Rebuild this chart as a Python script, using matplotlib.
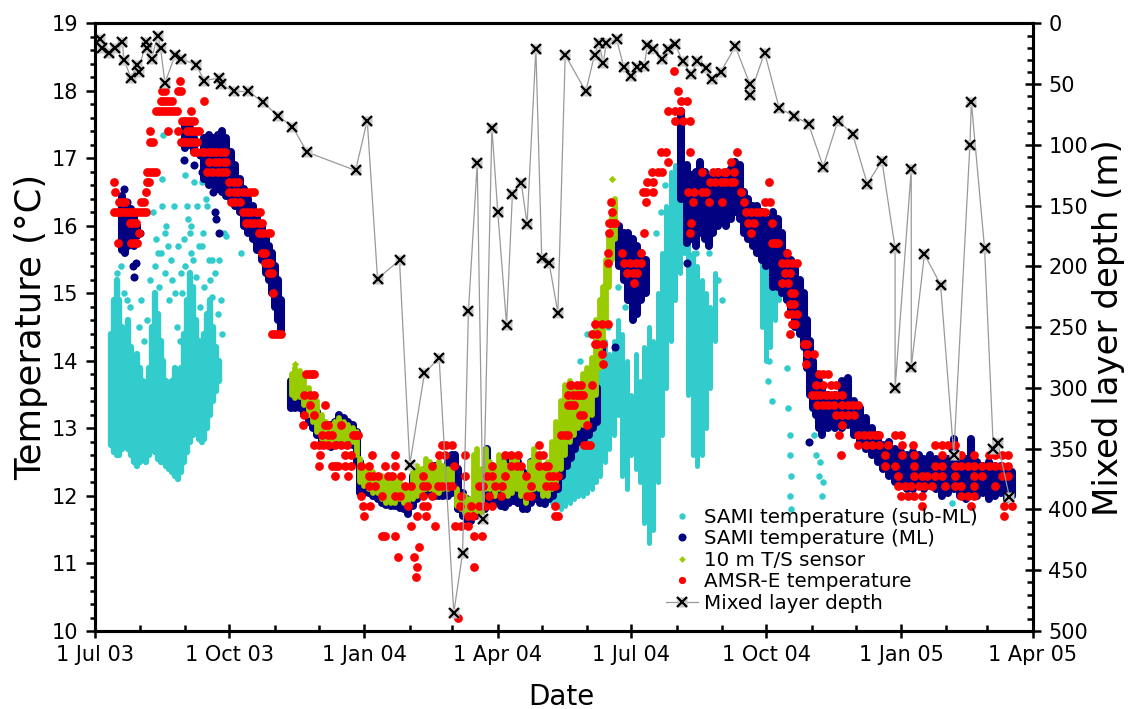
import numpy as np
import matplotlib
matplotlib.use("Agg")
import matplotlib.pyplot as plt
import matplotlib.dates as mdates
from matplotlib.lines import Line2D
from matplotlib.ticker import MultipleLocator

# all days are counted from 1 Jul 2003
t0 = np.datetime64("2003-07-01")

# SAMI temperature below the mixed layer: dense part (day, low, high) + loose points
subml_day = [11, 13, 15, 17, 19, 21, 23, 25, 27, 29, 31, 33, 35, 37, 39, 41, 43, 45, 47, 49,
             51, 53, 55, 57, 59, 61, 63, 65, 67, 69, 71, 73, 75, 77, 79, 81, 83, 85,
             306, 309, 312, 315, 318, 321, 324, 327, 330, 333, 336, 339, 342, 345, 348, 351,
             354, 357, 360, 363, 366, 369, 372, 375, 378, 381, 384, 387, 390, 393, 396, 399,
             402, 405, 408, 411, 414, 417, 420, 423, 455, 458, 461, 464, 467]
subml_lo = [12.75, 12.65, 12.6, 12.6, 12.7, 12.75, 12.7, 12.6, 12.5, 12.45, 12.5, 12.55, 12.5,
            12.6, 12.7, 12.65, 12.55, 12.5, 12.5, 12.45, 12.4, 12.35, 12.3, 12.25, 12.35, 12.5,
            12.65, 12.8, 12.9, 13.0, 12.85, 12.8, 12.85, 13.0, 13.2, 13.4, 13.55, 13.7,
            11.95, 11.95, 11.9, 11.85, 11.8, 11.85, 11.9, 11.95, 12.0, 12.0, 12.05, 12.1, 12.2,
            12.3, 12.5, 12.7, 12.9, 13.2, 12.3, 12.1, 12.6, 12.4, 12.2, 11.6, 11.3, 11.5, 12.2,
            12.9, 13.6, 14.3, 14.9, 15.3, 15.6, 13.5, 12.6, 12.45, 12.6, 13.0, 13.6, 14.3,
            14.5, 14.0, 14.2, 14.6, 14.9]
subml_hi = [14.4, 14.9, 15.2, 14.9, 14.5, 14.3, 14.6, 14.2, 13.8, 14.1, 13.9, 13.7, 13.5, 13.9,
            14.5, 15.0, 14.7, 14.3, 14.0, 13.7, 13.5, 13.7, 13.9, 13.6, 13.9, 14.4, 14.9, 15.3,
            15.1, 14.6, 14.3, 14.1, 14.4, 14.7, 14.9, 14.5, 14.2, 14.0,
            12.15, 12.25, 12.4, 12.7, 12.9, 13.1, 13.2, 13.3, 13.4, 13.5, 13.7, 13.9, 14.1,
            14.2, 14.3, 14.1, 14.3, 14.6, 14.4, 14.0, 13.5, 14.1, 13.7, 14.2, 14.5, 14.3, 15.0,
            15.6, 16.3, 16.8, 16.9, 16.6, 16.1, 15.8, 15.6, 15.4, 15.2, 15.0, 14.8, 15.3,
            15.6, 15.4, 15.2, 15.3, 15.4]
subml_pt_day = [15, 18, 20, 22, 24, 30, 32, 34, 36, 38, 40, 41, 43, 44, 46, 46, 47, 48, 48, 50,
                51, 52, 54, 55, 56, 57, 58, 60, 62, 62, 64, 66, 66, 68, 70, 71, 73, 73, 75, 76,
                77, 78, 80, 80, 82, 83, 84, 86, 88, 90, 100, 87, 85, 63, 59, 69, 72,
                42, 45, 49, 53, 61, 65, 67, 74, 79,
                331, 336, 344, 350, 357, 362, 365, 370, 383, 386, 389, 403, 406, 410, 419, 425,
                428, 459, 460, 462, 472, 473, 474, 474, 475, 474, 475, 491, 492, 494, 495, 496,
                497, 585]
subml_pt_t = [15.3, 15.4, 15.0, 14.9, 14.8, 14.5, 14.9, 14.3, 14.6, 15.2, 16.2, 15.4, 15.6, 15.1,
              16.7, 16.3, 17.35, 15.9, 15.3, 15.7, 14.9, 15.5, 16.3, 15.0, 14.5, 15.7, 14.3,
              15.0, 15.4, 16.75, 16.1, 15.6, 16.0, 16.65, 16.3, 15.7, 15.7, 16.65, 15.1, 16.4,
              16.3, 15.5, 15.5, 14.95, 15.3, 16.1, 14.7, 14.9, 15.9, 15.85, 15.6, 14.4, 15.5,
              16.3, 15.3, 15.25, 14.8,
              15.8, 15.6, 16.0, 15.2, 15.8, 15.9, 15.5, 15.9, 15.2,
              14.0, 14.4, 14.6, 14.5, 15.1, 14.8, 14.9, 14.7, 15.9, 16.2, 16.6, 15.7, 15.9,
              15.6, 15.6, 15.2, 14.9, 13.7, 14.0, 13.4, 13.9, 13.3, 12.9, 12.6, 12.3, 12.0,
              11.8, 12.9, 12.6, 12.3, 12.5, 12.0, 12.2, 11.9]

# SAMI temperature in the mixed layer
ml_day = [19, 21, 23, 25, 27, 29,
          62, 65, 68, 75, 78, 81, 84, 87, 90, 93, 96, 99, 102, 105, 108, 111, 114, 117, 119,
          121, 123, 125, 127,
          134, 137, 140, 143, 146, 149, 152, 155, 158, 161, 164, 167, 170, 173, 176, 179, 181,
          184, 187, 190, 193, 196, 199, 202, 205, 208, 211, 214, 217, 220, 223, 226, 229, 232,
          235, 238, 241, 244, 246, 248, 251, 254, 257, 260, 263, 266, 268, 271, 274, 277, 280,
          283, 286, 289, 292, 295, 298, 301, 304, 307, 310, 313, 316, 319, 322, 325, 328, 331,
          334, 337, 340, 343, 346,
          358, 361, 364, 367, 370, 373, 376,
          400, 404, 407, 410, 413, 416, 419, 422, 425, 428, 431, 434, 437, 440, 443, 446, 449,
          452, 455, 458, 461, 463, 466, 469, 472, 475, 478, 481, 484, 486, 488, 490, 492, 494,
          496, 500, 505, 510, 514, 518, 522, 526, 530, 534, 538, 542, 546, 550, 554, 558, 562,
          566, 570, 574, 578, 582, 586, 590, 594, 598, 602, 606, 610, 614, 618, 622, 626]
ml_lo = [15.65, 15.6, 15.7, 15.8, 15.7, 15.85,
         17.15, 17.2, 17.1, 16.7, 16.6, 16.6, 16.55, 16.5, 16.45, 16.4, 16.3, 16.2, 16.0, 15.9,
         15.8, 15.65, 15.5, 15.3, 15.2, 15.0, 14.8, 14.6, 14.45,
         13.3, 13.3, 13.31, 13.2, 13.1, 13.0, 12.9, 12.8, 12.75, 12.72, 12.75, 12.8, 12.75,
         12.8, 12.75, 12.5, 12.05, 12.05, 12.05, 12.0, 11.95, 11.9, 11.87, 11.85, 11.85, 11.82,
         11.8, 11.73, 11.85, 11.95, 12.0, 12.05, 12.05, 12.0, 12.0, 12.0, 12.0, 12.05, 12.1,
         11.8, 11.7, 11.65, 11.63, 11.7, 11.75, 11.8, 11.85, 11.9, 11.9, 11.85, 11.83, 11.9,
         11.93, 11.9, 11.8, 11.8, 11.9, 11.95, 11.9, 11.88, 11.95, 12.0, 12.1, 12.3, 12.45,
         12.57, 12.7, 12.8, 12.85, 12.9, 13.0, 13.1, 14.1,
         15.4, 15.2, 14.9, 14.6, 14.7, 14.9, 15.0,
         16.4, 15.75, 15.8, 15.7, 15.9, 15.8, 15.7, 15.9, 16.0, 16.1, 16.0, 16.1, 16.2, 16.1,
         15.9, 15.8, 15.7, 15.6, 15.5, 15.4, 15.5, 15.1, 15.1, 15.0, 14.9, 14.7, 14.5, 14.4,
         14.2, 13.9, 13.5, 13.3, 13.2, 13.0, 12.9, 13.0, 13.0, 13.0, 13.05, 12.9, 12.8, 12.7,
         12.6, 12.5, 12.4, 12.3, 12.2, 12.15, 12.1, 12.1, 12.15, 12.1, 12.15, 12.1, 12.0,
         12.05, 12.1, 12.0, 11.95, 12.05, 12.0, 12.05, 11.95, 12.0, 12.05, 11.95, 12.0]
ml_hi = [16.45, 16.3, 16.2, 16.25, 16.15, 16.0,
         17.5, 17.45, 17.3, 17.3, 17.35, 17.3, 17.35, 17.4, 17.3, 17.1, 16.9, 16.7, 16.55, 16.4,
         16.3, 16.15, 16.0, 15.85, 15.7, 15.6, 15.4, 15.2, 14.9,
         13.7, 13.75, 13.7, 13.56, 13.5, 13.45, 13.25, 13.1, 13.0, 13.05, 13.1, 13.2, 13.15,
         13.1, 13.05, 12.95, 12.5, 12.4, 12.35, 12.3, 12.25, 12.2, 12.15, 12.1, 12.15, 12.1,
         12.05, 12.02, 12.3, 12.35, 12.35, 12.4, 12.45, 12.45, 12.4, 12.4, 12.5, 12.6, 12.6,
         12.4, 12.05, 11.95, 11.93, 12.2, 12.1, 12.3, 12.7, 12.45, 12.4, 12.5, 12.42, 12.5,
         12.55, 12.5, 12.35, 12.3, 12.5, 12.55, 12.3, 12.22, 12.4, 12.5, 12.8, 13.0, 13.2,
         13.16, 13.2, 13.25, 13.2, 13.3, 13.4, 13.6, 14.3,
         16.0, 15.9, 15.9, 15.8, 15.7, 15.6, 15.5,
         17.7, 16.9, 16.75, 16.8, 16.95, 16.8, 16.7, 16.75, 16.8, 16.7, 16.7, 16.85, 16.95,
         16.9, 16.5, 16.4, 16.3, 16.3, 16.2, 16.1, 16.05, 16.2, 16.1, 15.9, 15.6, 15.5, 15.4,
         15.2, 15.0, 14.6, 14.3, 14.0, 13.8, 13.7, 13.6, 13.5, 13.5, 13.7, 13.75, 13.4, 13.3,
         13.15, 13.0, 12.9, 12.75, 12.8, 12.7, 12.65, 12.6, 12.65, 12.6, 12.55, 12.6, 12.55,
         12.5, 12.55, 12.85, 12.5, 12.55, 12.85, 12.5, 12.45, 12.5, 12.45, 12.45, 12.4, 12.35]
ml_pt_day = [26, 27, 28, 31, 20, 22, 61, 68, 73, 77, 81, 82, 83, 85, 72, 404, 355, 406, 487]
ml_pt_t = [15.4, 15.25, 15.45, 15.9, 16.55, 16.35, 16.97, 16.9, 16.8, 16.7, 16.5, 16.2, 16.1,
           15.9, 17.05, 15.45, 14.2, 16.1, 12.8]

# 10 m T/S sensor
ts_day = [135, 137, 140, 143, 146, 149, 152, 155, 158, 161, 164, 167, 170, 173, 176, 179, 181,
          184, 187, 190, 193, 196, 199, 202, 205, 208, 211, 214, 217, 220, 223, 226, 229, 232,
          235, 238, 241, 244, 247, 250, 253, 256, 259, 261, 264, 267, 270, 273, 276, 279, 282,
          285, 288, 291, 294, 297, 300, 303, 306, 309, 312, 315, 318, 321, 324, 327, 330, 333,
          336, 339, 342, 345, 347, 349, 351, 353, 355]
ts_lo = [13.5, 13.45, 13.46, 13.35, 13.2, 13.1, 12.95, 12.85, 12.8, 12.8, 12.85, 12.85, 12.8,
         12.85, 12.8, 12.6, 12.2, 12.15, 12.1, 12.05, 12.05, 11.95, 11.9, 11.9, 11.9, 11.95,
         11.9, 11.85, 11.95, 12.0, 12.05, 12.1, 12.1, 12.05, 12.05, 12.1, 12.1, 12.15, 11.85,
         11.8, 11.75, 11.7, 11.8, 11.75, 11.7, 12.1, 12.1, 12.0, 12.1, 12.05, 12.0, 12.05, 12.1,
         12.0, 11.9, 12.0, 12.1, 12.1, 12.0, 12.0, 12.1, 12.2, 12.4, 12.6, 12.8, 12.9, 13.0,
         13.05, 13.1, 13.2, 13.5, 13.9, 14.3, 14.6, 15.1, 15.5, 15.8]
ts_hi = [13.8, 13.9, 13.85, 13.75, 13.6, 13.5, 13.4, 13.2, 13.1, 13.05, 13.1, 13.15, 13.1,
         13.05, 13.0, 12.95, 12.55, 12.45, 12.4, 12.35, 12.3, 12.3, 12.2, 12.25, 12.3, 12.2,
         12.15, 12.15, 12.35, 12.45, 12.4, 12.55, 12.5, 12.45, 12.5, 12.45, 12.4, 12.4, 12.1,
         12.0, 12.0, 11.95, 12.6, 12.7, 12.4, 12.7, 12.5, 12.45, 12.6, 12.5, 12.45, 12.55,
         12.6, 12.45, 12.3, 12.5, 12.7, 12.55, 12.4, 12.5, 12.8, 13.1, 13.4, 13.65, 13.7, 13.6,
         13.65, 13.8, 13.9, 14.05, 14.6, 14.9, 15.1, 15.5, 15.9, 16.2, 16.4]
ts_pt_day = [353, 137]
ts_pt_t = [16.7, 13.95]

# AMSR-E temperature: quantised levels and the days each level occurs
amsr_levels = [18.3, 18.15, 18.0, 17.85, 17.7, 17.55, 17.4, 17.25, 17.1, 16.95, 16.8, 16.65,
               16.5, 16.35, 16.2, 16.05, 15.9, 15.75, 15.6, 15.45, 15.3, 15.15, 15.0, 14.85,
               14.7, 14.55, 14.4, 14.25, 14.1, 13.95, 13.8, 13.65, 13.5, 13.35, 13.2, 13.05,
               12.9, 12.75, 12.6, 12.45, 12.3, 12.15, 12.0, 11.85, 11.7, 11.55, 11.4, 11.25,
               11.1, 10.95, 10.8, 10.2]
amsr_days = [
    [395], [58], [46, 48, 57, 59, 398],
    [45, 47, 49, 51, 53, 75, 400, 404],
    [42, 44, 46, 48, 50, 52, 54, 56, 66, 391, 396, 399],
    [60, 62, 64, 66, 68, 396, 401, 406],
    [38, 50, 57, 63, 65, 67, 69, 71],
    [38, 40, 59, 61, 63, 65, 67, 70],
    [68, 70, 73, 75, 78, 80, 83, 86, 89, 386, 390, 406, 438],
    [78, 82, 85, 88, 90, 391, 434],
    [36, 38, 40, 42, 77, 80, 84, 87, 90, 380, 384, 387, 414, 422, 425, 429, 431, 436],
    [13, 36, 37, 92, 95, 98, 377, 381, 420, 423, 427, 430, 434, 436, 460],
    [14, 35, 92, 95, 98, 101, 104, 107, 109, 374, 376, 381, 405, 409, 414, 417, 441],
    [17, 19, 21, 32, 34, 93, 96, 99, 352, 376, 408, 419, 428, 443, 457, 461],
    [13, 15, 17, 19, 21, 23, 25, 27, 29, 31, 33, 35, 101, 104, 107, 110, 113, 353, 444, 448,
     451, 454, 457],
    [24, 26, 28, 103, 106, 109, 112, 114, 351, 353, 355, 407, 446, 450, 462],
    [30, 112, 115, 118, 120, 351, 375, 406, 448],
    [16, 25, 27, 29, 462, 464, 466],
    [114, 116, 350, 360, 373, 472],
    [116, 118, 120, 350, 361, 365, 369, 373, 469, 472, 476, 479],
    [119, 121, 363, 367, 370, 471, 474],
    [368, 469, 473], [122, 475, 477], [474, 477], [473, 476, 479],
    [341, 346, 350, 476, 478],
    [121, 123, 125, 127, 339, 343, 474],
    [341, 343, 347, 484, 486], [346, 486, 491], [347, 485],
    [144, 146, 148, 150, 494, 497, 500],
    [324, 325, 329, 332, 339, 492, 497, 502, 506],
    [143, 147, 150, 323, 326, 329, 331, 333, 489, 492, 495, 499, 502, 506, 510],
    [147, 157, 323, 325, 327, 493, 497, 500, 504, 510, 514, 517, 521],
    [143, 150, 331, 333, 506, 510, 514, 518],
    [142, 157, 159, 168, 336, 510],
    [155, 159, 162, 176, 178, 180, 318, 321, 323, 508, 521, 525, 529, 532, 535, 546, 550],
    [150, 153, 156, 159, 164, 168, 172, 237, 240, 244, 303, 334, 336, 338, 521, 526, 530,
     535, 541, 551, 558, 573, 578, 582, 587],
    [154, 171, 175, 189, 205, 235, 239, 253, 280, 284, 289, 303, 306, 509, 539, 551, 559,
     578, 591, 600, 610, 614, 619, 623],
    [153, 162, 164, 166, 171, 175, 182, 187, 198, 205, 230, 245, 271, 284, 288, 291, 303,
     307, 309, 539, 546, 559, 573, 578, 587, 591, 596, 600, 605, 610, 614, 619, 623],
    [164, 173, 187, 190, 193, 200, 203, 209, 224, 253, 268, 271, 280, 294, 310, 313, 316,
     548, 559, 564, 568, 573, 578, 587, 600, 605, 619, 623],
    [187, 191, 212, 216, 224, 227, 234, 237, 241, 244, 262, 265, 273, 278, 298, 308, 311,
     314, 548, 553, 557, 562, 566, 571, 580, 587, 591, 600, 614],
    [182, 196, 205, 208, 224, 230, 250, 269, 277, 295, 298, 550, 555, 559, 564, 591, 596, 600],
    [183, 188, 214, 224, 227, 249, 257, 262, 266, 271, 314, 564, 598, 620, 626],
    [184, 220, 226, 255, 258, 314, 316, 620],
    [216, 232, 246, 250, 255], [196, 198, 205, 259, 264], [221], [207, 218], [220, 259],
    [219], [248]]

# mixed layer depth (m)
mld_day = [4, 5, 10, 14, 19, 20, 25, 29, 30, 35, 36, 39, 43, 45, 48, 55, 59, 69, 75, 85, 86,
           95, 105, 115, 125, 135, 145, 178, 186, 193, 208, 215, 225, 235, 245, 251, 255, 261,
           265, 271, 275, 281, 285, 291, 295, 301, 305, 310, 316, 321, 335, 341, 344, 347, 349,
           356, 361, 366, 370, 375, 377, 381, 387, 391, 396, 401, 407, 411, 417, 421, 427, 437,
           447, 447, 457, 467, 477, 487, 497, 507, 517, 527, 537, 546, 546, 557, 557, 566, 577,
           586, 597, 598, 607, 613, 616, 624]
mld_depth = [13, 20, 24, 20, 15, 30, 45, 34, 40, 15, 20, 29, 10, 20, 49, 26, 29, 34, 47, 45,
             50, 56, 56, 65, 76, 85, 106, 121, 80, 210, 195, 363, 288, 275, 485, 436, 237, 115,
             408, 86, 155, 248, 140, 131, 165, 21, 193, 197, 238, 26, 56, 26, 16, 33, 16, 13,
             36, 43, 36, 35, 18, 21, 29, 21, 17, 31, 42, 31, 37, 46, 40, 19, 50, 59, 24, 70,
             76, 83, 118, 80, 91, 132, 113, 185, 300, 120, 283, 190, 215, 355, 100, 65, 185,
             350, 345, 390]


def dnum(days):
    return mdates.date2num(t0) + np.asarray(days, dtype=float)


amsr_x = [d for lev, ds in zip(amsr_levels, amsr_days) for d in ds]
amsr_y = [lev for lev, ds in zip(amsr_levels, amsr_days) for d in ds]

c_sub = "#33cccc"
c_ml = "#000080"
c_ts = "#99cc00"
c_amsr = "#ff0000"

fig = plt.figure(figsize=(11.32, 7.09), dpi=100)
ax = fig.add_axes([0.0835, 0.110, 0.829, 0.857])
ax2 = ax.twinx()

# second-year sub-ML streaks are sparser, so draw them thinner
sub_lw = [4.6 if d < 200 else 3.6 for d in subml_day]
ax.vlines(dnum(subml_day), subml_lo, subml_hi, color=c_sub, linewidths=sub_lw,
          capstyle="round", zorder=2)
ax.scatter(dnum(subml_pt_day), subml_pt_t, s=22, color=c_sub, lw=0, zorder=2)
ax.vlines(dnum(ml_day), ml_lo, ml_hi, color=c_ml, lw=5.8, capstyle="round", zorder=3)
ax.scatter(dnum(ml_pt_day), ml_pt_t, s=34, color=c_ml, lw=0, zorder=3)
ax.vlines(dnum(ts_day), ts_lo, ts_hi, color=c_ts, lw=4.2, capstyle="round", zorder=4)
ax.scatter(dnum(ts_pt_day), ts_pt_t, marker="D", s=14, color=c_ts, lw=0, zorder=4)
ax.scatter(dnum(amsr_x), amsr_y, s=40, color=c_amsr, lw=0, zorder=5)

ax2.plot(dnum(mld_day), mld_depth, color="#999999", lw=0.9)
ax2.plot(dnum(mld_day), mld_depth, ls="none", marker="s", ms=7, mfc="#c8c8c8", mec="none")
ax2.plot(dnum(mld_day), mld_depth, ls="none", marker="x", ms=7.5, mew=1.6, color="k")

ax.set_xlim(dnum(0), dnum(640))
ax.set_ylim(10, 19)
ax2.set_ylim(500, 0)

ax.xaxis.set_major_locator(mdates.MonthLocator(bymonth=[1, 4, 7, 10]))
ax.xaxis.set_minor_locator(mdates.MonthLocator())
ax.xaxis.set_major_formatter(mdates.DateFormatter("1 %b %y"))
ax.yaxis.set_major_locator(MultipleLocator(1))
ax.yaxis.set_minor_locator(MultipleLocator(0.2))
ax2.yaxis.set_major_locator(MultipleLocator(50))
ax2.yaxis.set_minor_locator(MultipleLocator(10))

ax.tick_params(axis="y", which="major", direction="out", length=6.5, width=1.8, labelsize=15, pad=5)
ax.tick_params(axis="y", which="minor", direction="out", length=3.6, width=1.8)
ax.tick_params(axis="x", which="major", direction="inout", length=10, width=1.8, labelsize=15, pad=5)
ax.tick_params(axis="x", which="minor", direction="in", length=4.3, width=1.8)
ax2.tick_params(axis="y", which="major", direction="inout", length=12, width=1.8, labelsize=15, pad=5)
ax2.tick_params(axis="y", which="minor", direction="in", length=4.3, width=1.8)

for a in (ax, ax2):
    for sp in a.spines.values():
        sp.set_linewidth(2.2)

ax.set_ylabel("Temperature (°C)", fontsize=25.5)
ax.yaxis.set_label_coords(-0.0495, 0.5)
ax2.set_ylabel("Mixed layer depth (m)", fontsize=24.5)
ax2.yaxis.set_label_coords(1.063, 0.5)
ax.set_xlabel("Date", fontsize=20)
ax.xaxis.set_label_coords(0.498, -0.085)

h_sub = Line2D([], [], ls="none", marker="o", ms=4.6, color=c_sub, mec="none")
h_ml = Line2D([], [], ls="none", marker="o", ms=5.8, color=c_ml, mec="none")
h_ts = Line2D([], [], ls="none", marker="D", ms=3.4, color=c_ts, mec="none")
h_amsr = Line2D([], [], ls="none", marker="o", ms=5.2, color=c_amsr, mec="none")
h_mld_a = Line2D([], [], color="#999999", lw=0.9, marker="s", ms=7, mfc="#c8c8c8", mec="none")
h_mld_b = Line2D([], [], ls="none", marker="x", ms=7.5, mew=1.6, color="k")
ax2.legend([h_sub, h_ml, h_ts, h_amsr, (h_mld_a, h_mld_b)],
           ["SAMI temperature (sub-ML)", "SAMI temperature (ML)", "10 m T/S sensor",
            "AMSR-E temperature", "Mixed layer depth"],
           loc="upper left", bbox_to_anchor=(0.5883, 0.2835), bbox_transform=fig.transFigure,
           frameon=False, fontsize=14.3, handlelength=1.6, handletextpad=0.3,
           labelspacing=0.12, borderpad=0, borderaxespad=0)

fig.savefig("out.png", dpi=100)
